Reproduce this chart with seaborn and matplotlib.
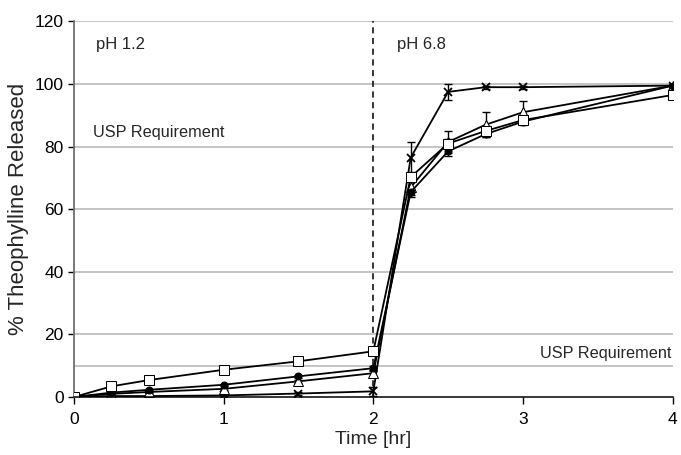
import numpy as np
import pandas as pd
import seaborn as sns
import matplotlib
matplotlib.use("Agg")
import matplotlib.pyplot as plt

sns.set_style("white")
plt.rcParams['font.family'] = ['Liberation Sans', 'DejaVu Sans']

## time points (hr)
time_hr = [0, 0.25, 0.5, 1, 1.5, 2, 2.25, 2.5, 2.75, 3, 4]

## % released for each formulation
rel_square = [0, 3.4, 5.4, 8.7, 11.4, 14.6, 70.3, 81.0, 85.0, 88.5, 96.5]
rel_filled = [0, 1.4, 2.3, 3.9, 6.6, 9.2, 65.5, 78.5, 84.0, 88.0, 99.5]
rel_triangle = [0, 1.0, 1.6, 2.6, 5.0, 7.6, 67.0, 81.5, 87.0, 91.0, 99.5]
rel_cross = [0, 0.3, 0.3, 0.5, 1.1, 1.8, 76.5, 97.5, 99.0, 99.0, 99.5]

## standard deviations
err_square = [0, 0.3, 0.3, 0.4, 0.4, 0.8, 1.5, 1.5, 1.5, 1.0, 0.8]
err_filled = [0, 0.2, 0.3, 0.3, 0.4, 0.6, 1.0, 1.5, 1.0, 1.0, 0.5]
err_triangle = [0, 0.2, 0.3, 0.3, 0.5, 0.8, 3.0, 3.5, 4.0, 3.5, 0.5]
err_cross = [0, 0.2, 0.2, 0.3, 0.5, 1.5, 5.0, 2.5, 0.5, 0.5, 0.5]

series = [
    ("cross", rel_cross, err_cross, dict(marker='x', markersize=6, mew=1.3)),
    ("triangle", rel_triangle, err_triangle, dict(marker='^', markersize=6.5, markerfacecolor='white')),
    ("filled", rel_filled, err_filled, dict(marker='o', markersize=5, markerfacecolor='black')),
    ("square", rel_square, err_square, dict(marker='s', markersize=6.5, markerfacecolor='white')),
]

fig = plt.figure(figsize=(6.81, 4.55), dpi=100)
ax = fig.add_axes([0.1087, 0.1275, 0.879, 0.8253])

## grid lines (incl. the USP level at 10 %)
for g in [10, 20, 40, 60, 80, 100, 120]:
    ax.axhline(g, color='#b4b4b4', lw=1.1, zorder=0)

for name, vals, errs, mk in series:
    df = pd.DataFrame({'t': time_hr, 'rel': vals})
    ax.errorbar(time_hr, vals, yerr=errs, fmt='none', ecolor='black',
                elinewidth=1, capsize=3, capthick=1, zorder=2)
    sns.lineplot(data=df, x='t', y='rel', ax=ax, color='black', lw=1.3,
                 markeredgecolor='black', zorder=3, **mk)

## pH change
ax.axvline(2, color='black', ls=(0, (4, 3)), lw=1.1, zorder=1)

ax.text(0.15, 112.5, "pH 1.2", fontsize=12, va='center')
ax.text(2.16, 112.5, "pH 6.8", fontsize=12, va='center')
ax.text(0.13, 84.5, "USP Requirement", fontsize=11.7, va='center')
ax.text(3.99, 14, "USP Requirement", fontsize=11.7, va='center', ha='right')

ax.set_xlim(0, 4)
ax.set_ylim(0, 120)
ax.set_xticks([0, 1, 2, 3, 4])
ax.set_yticks([0, 20, 40, 60, 80, 100, 120])
ax.tick_params(axis='both', labelsize=12.5, direction='out', length=4, width=1,
               left=True, bottom=True, colors='black')
ax.tick_params(axis='x', length=5, pad=6)
ax.set_xlabel("Time [hr]", fontsize=14, labelpad=3)
ax.set_ylabel("% Theophylline Released", fontsize=16, labelpad=4)

for s in ['top', 'right']:
    ax.spines[s].set_visible(False)
ax.spines['left'].set_color('#6e6e6e')
ax.spines['left'].set_linewidth(1.3)
ax.spines['bottom'].set_color('black')
ax.spines['bottom'].set_linewidth(1.1)
ax.spines['bottom'].set_zorder(5)

fig.savefig("out.png", dpi=100)
